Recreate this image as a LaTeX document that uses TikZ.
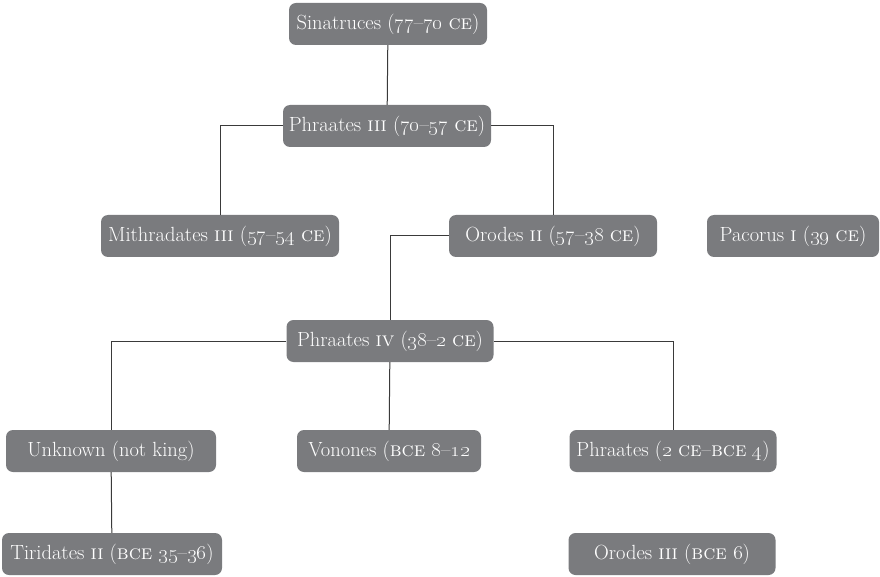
\documentclass[tikz,border=0pt]{standalone}
\usetikzlibrary{positioning}
\newcommand{\yr}[1]{\oldstylenums{#1}}
\tikzset{
  king/.style={fill=kinggray, rounded corners=7pt, text=white, minimum height=42pt,
    inner sep=0pt, font=\fontsize{20.5}{24}\selectfont},
  link/.style={draw=linkgray, line width=1pt}
}
\definecolor{kinggray}{HTML}{7A7B7E}
\definecolor{linkgray}{HTML}{3A3A3A}
\begin{document}
\begin{tikzpicture}[x=1pt,y=-1pt]
  \useasboundingbox (0,0) rectangle (880,577);
  % rulers and their reigns
  \node[king, minimum width=198pt] (sin) at (388,24) {Sinatruces (\yr{77}--\yr{70} \textsc{ce})};
  \node[king, minimum width=208pt] (p3) at (387,126) {Phraates \textsc{iii} (\yr{70}--\yr{57} \textsc{ce})};
  \node[king, minimum width=238pt] (mith) at (220,236) {Mithradates \textsc{iii} (\yr{57}--\yr{54} \textsc{ce})};
  \node[king, minimum width=208pt] (or2) at (553,236) {Orodes \textsc{ii} (\yr{57}--\yr{38} \textsc{ce})};
  \node[king, minimum width=172pt] (pac) at (793,236) {Pacorus \textsc{i} (\yr{39} \textsc{ce})};
  \node[king, minimum width=207pt] (p4) at (390,341) {Phraates \textsc{iv} (\yr{38}--\yr{2} \textsc{ce})};
  \node[king, minimum width=210pt] (unk) at (111,451) {Unknown (not king)};
  \node[king, minimum width=184pt] (von) at (389,451) {Vonones (\textsc{bce} \yr{8}--\yr{12}};
  \node[king, minimum width=207pt] (phr) at (673,451) {Phraates (\yr{2} \textsc{ce}--\textsc{bce} \yr{4})};
  \node[king, minimum width=220pt] (tir) at (112,554) {Tiridates \textsc{ii} (\textsc{bce} \yr{35}--\yr{36})};
  \node[king, minimum width=207pt] (or3) at (672,554) {Orodes \textsc{iii} (\textsc{bce} \yr{6})};
  % lines of succession
  \draw[link] (sin) -- (p3);
  \draw[link] (p3.west) -| (mith.north);
  \draw[link] (p3.east) -| (or2.north);
  \draw[link] (or2.west) -| (p4.north);
  \draw[link] (p4.west) -| (unk.north);
  \draw[link] (p4) -- (von);
  \draw[link] (p4.east) -| (phr.north);
  \draw[link] (unk) -- (tir);
\end{tikzpicture}
\end{document}
